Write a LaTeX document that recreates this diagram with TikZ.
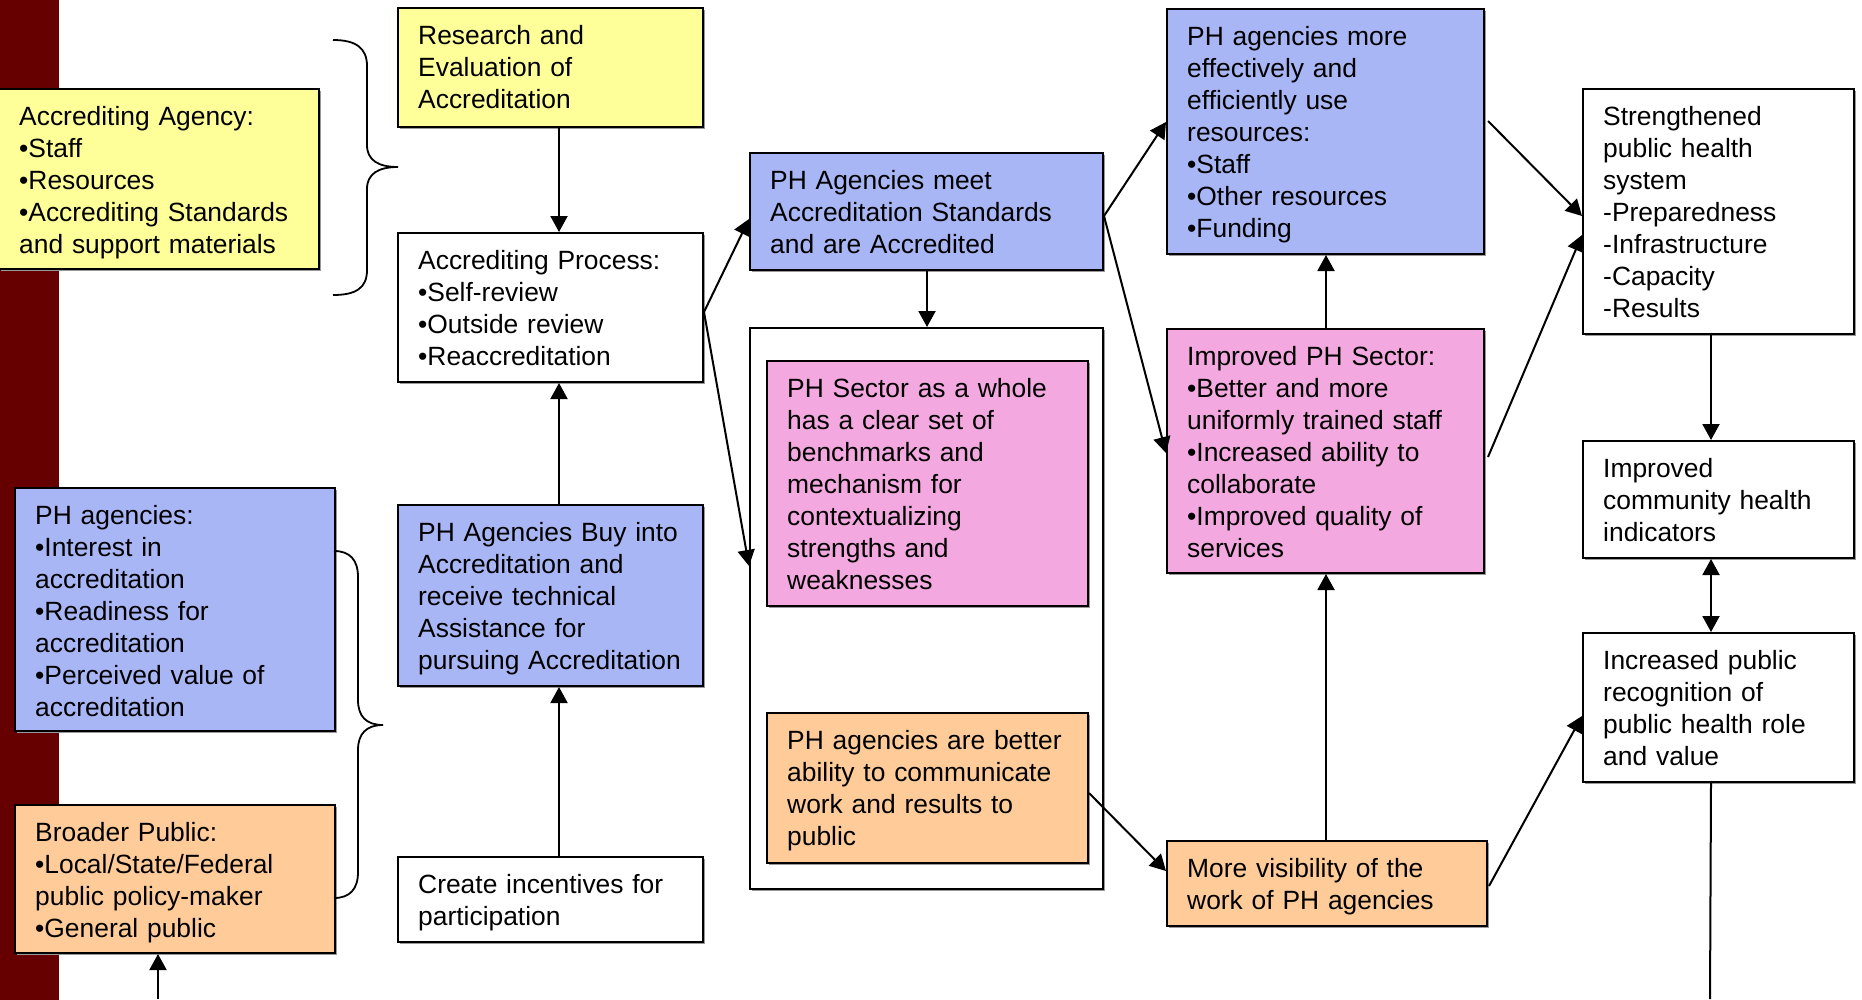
\documentclass[tikz,border=0pt]{standalone}
\usepackage{fontspec}
\setmainfont{Liberation Sans}
\usetikzlibrary{arrows.meta,calc,shadows}

\definecolor{yellowbox}{HTML}{FFFF99}
\definecolor{bluebox}{HTML}{A8B6F5}
\definecolor{pinkbox}{HTML}{F4A8E0}
\definecolor{orangebox}{HTML}{FFCC99}
\definecolor{maroonbar}{HTML}{660000}

\tikzset{
  box/.style={draw=black, line width=2pt, rectangle, inner sep=0pt,
    general shadow={fill=black!40, shadow xshift=1.5pt, shadow yshift=-1.5pt}},
  txt/.style={inner sep=0pt, text width=12cm, align=left,
    font=\fontsize{26.4pt}{32pt}\selectfont},
  arr/.style={draw=black, line width=2pt, -{Triangle[length=16pt,width=17pt]}},
  dblarr/.style={draw=black, line width=2pt,
    {Triangle[length=16pt,width=17pt]}-{Triangle[length=16pt,width=17pt]}},
  plainline/.style={draw=black, line width=2pt},
  bracepath/.style={draw=black, line width=1.8pt},
}

% box with top-left corner (x,y), width, height, fill and text
\newcommand{\phbox}[7]{%
  \node[box, fill=#6, minimum width=#4pt, minimum height=#5pt, anchor=north west] (#1) at (#2,#3) {};
  \node[txt, anchor=base west] (#1-t) at ($(#1.north west)+(21,37)$) {#7};
}

\begin{document}
\begin{tikzpicture}[x=1pt,y=-1pt]
\useasboundingbox (0,0) rectangle (1862,999);

% side bar
\fill[maroonbar] (-1,-1) rectangle (59,1000);

% left column
\phbox{agency}{-2}{88}{320}{180}{yellowbox}{Accrediting Agency:\\•Staff\\•Resources\\•Accrediting Standards\\and support materials}
\phbox{phag}{14}{487}{320}{243}{bluebox}{PH agencies:\\•Interest in\\accreditation\\•Readiness for\\accreditation\\•Perceived value of\\accreditation}
\phbox{broader}{14}{804}{320}{148}{orangebox}{Broader Public:\\•Local/State/Federal\\public policy-maker\\•General public}

% braces
\draw[bracepath] (333,40) .. controls (356,40) and (367,48) .. (367,66)
  -- (367,145) .. controls (367,160) and (378,167) .. (398,167)
  .. controls (378,167) and (367,174) .. (367,189)
  -- (367,270) .. controls (367,288) and (356,295) .. (333,295);
\draw[bracepath] (334,551) .. controls (350,551) and (358,560) .. (358,577)
  -- (358,700) .. controls (358,716) and (366,725) .. (383,725)
  .. controls (366,725) and (358,734) .. (358,750)
  -- (358,872) .. controls (358,889) and (350,898) .. (334,898);

% second column
\phbox{research}{397}{7}{305}{119}{yellowbox}{Research and\\Evaluation of\\Accreditation}
\phbox{process}{397}{232}{305}{149}{white}{Accrediting Process:\\•Self-review\\•Outside review\\•Reaccreditation}
\phbox{buy}{397}{504}{305}{181}{bluebox}{PH Agencies Buy into\\Accreditation and\\receive technical\\Assistance for\\pursuing Accreditation}
\phbox{incent}{397}{856}{305}{85}{white}{Create incentives for\\participation}

% third column
\phbox{meet}{749}{152}{353}{117}{bluebox}{PH Agencies meet\\Accreditation Standards\\and are Accredited}
\node[box, fill=white, minimum width=353pt, minimum height=561pt, anchor=north west] (frame) at (749,327) {};
\phbox{sector}{766}{360}{321}{245}{pinkbox}{PH Sector as a whole\\has a clear set of\\benchmarks and\\mechanism for\\contextualizing\\strengths and\\weaknesses}
\phbox{comm}{766}{712}{321}{150}{orangebox}{PH agencies are better\\ability to communicate\\work and results to\\public}

% fourth column
\phbox{phmore}{1166}{8}{317}{245}{bluebox}{PH agencies more\\effectively and\\efficiently use\\resources:\\•Staff\\•Other resources\\•Funding}
\phbox{improved}{1166}{328}{317}{244}{pinkbox}{Improved PH Sector:\\•Better and more\\uniformly trained staff\\•Increased ability to\\collaborate\\•Improved quality of\\services}
\phbox{visib}{1166}{840}{320}{85}{orangebox}{More visibility of the\\work of PH agencies}

% outcome column
\phbox{strength}{1582}{88}{271}{245}{white}{Strengthened\\public health\\system\\-Preparedness\\-Infrastructure\\-Capacity\\-Results}
\phbox{commhealth}{1582}{440}{271}{117}{white}{Improved\\community health\\indicators}
\phbox{recog}{1582}{632}{271}{149}{white}{Increased public\\recognition of\\public health role\\and value}

% loose ends at the lower edge
\coordinate (bpin) at (158,999);
\coordinate (recout) at (1710,999);

% connectors
\draw[arr] ($(research.south)+(8.5,0)$) -- ($(process.north)+(8.5,0)$);
\draw[arr] ($(buy.north)+(8.5,0)$) -- ($(process.south)+(8.5,0)$);
\draw[arr] ($(incent.north)+(8.5,0)$) -- ($(buy.south)+(8.5,0)$);
\draw[arr] (bpin) -- (bpin |- broader.south);

\draw[arr] ($(process.east)+(0,4.5)$) -- ($(meet.west)+(0,7.5)$);
\draw[arr] ($(process.east)+(0,4.5)$) -- ($(frame.west)+(0,-42.5)$);
\draw[arr] ($(meet.south)+(0.5,0)$) -- ($(frame.north)+(0.5,0)$);

\draw[arr] ($(meet.east)+(0,4.5)$) -- ($(phmore.west)+(0,-9.5)$);
\draw[arr] ($(meet.east)+(0,4.5)$) -- ($(improved.west)+(0,2)$);
\draw[arr] ($(improved.north)+(0.5,0)$) -- ($(phmore.south)+(0.5,0)$);
\draw[arr] ($(visib.north -| improved.south)+(0.5,0)$) -- ($(improved.south)+(0.5,0)$);
\draw[arr] ($(comm.east)+(0,5)$) -- ($(visib.west)+(0,-12.5)$);

\draw[arr] ($(phmore.east)+(3,-10.5)$) -- ($(strength.west)+(0,4.5)$);
\draw[arr] ($(improved.east)+(3,6)$) -- ($(strength.west)+(0,23.5)$);
\draw[arr] ($(visib.east)+(1,2.5)$) -- ($(recog.west)+(0,8.5)$);

\draw[arr] ($(strength.south)+(-7.5,0)$) -- ($(commhealth.north)+(-7.5,0)$);
\draw[dblarr] ($(commhealth.south)+(-7.5,0)$) -- ($(recog.north)+(-7.5,0)$);
\draw[plainline] ($(recog.south)+(-7.5,0)$) -- (recout);
\end{tikzpicture}
\end{document}
